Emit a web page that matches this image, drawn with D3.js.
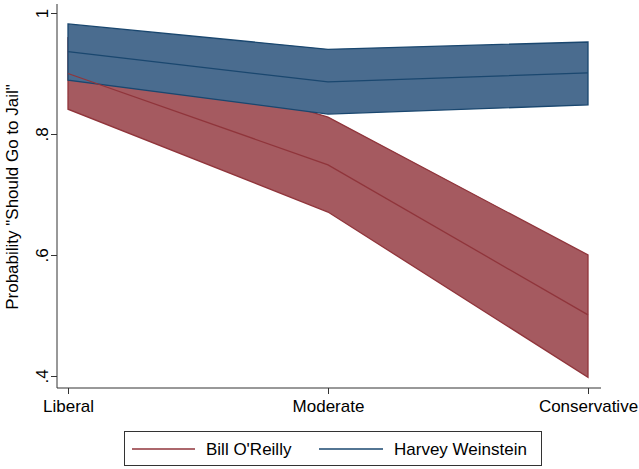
<!DOCTYPE html>
<html><head><meta charset="utf-8">
<script src="https://cdn.jsdelivr.net/npm/d3@7"></script>
<style>body{margin:0;background:#fff}svg{display:block;font-family:"Liberation Sans",Arial,sans-serif}</style>
</head><body><svg id="c" width="639" height="469"></svg>
<script>
const categories = ["Liberal","Moderate","Conservative"];
const oreillyMean = [0.900, 0.749, 0.501];
const oreillyLo   = [0.841, 0.671, 0.398];
const oreillyHi   = [0.959, 0.828, 0.600];
const weinMean = [0.936, 0.886, 0.901];
const weinLo   = [0.889, 0.833, 0.848];
const weinHi   = [0.982, 0.940, 0.952];
const yTicks = [0.4, 0.6, 0.8, 1];
const yTickLabels = [".4", ".6", ".8", "1"];
const seriesNames = ["Bill O'Reilly", "Harvey Weinstein"];

const svg = d3.select("#c");
const x = d3.scalePoint().domain(categories).range([68, 588]);
const y = d3.scaleLinear().domain([0.4, 1]).range([376, 13]);

const colors = {red:{line:"#90353b", fill:"#a55a60"}, blue:{line:"#1a476f", fill:"#4a6c8f"}};

function band(lo, hi){
  return d3.area().x((d,i)=>x(categories[i])).y0((d,i)=>y(lo[i])).y1((d,i)=>y(hi[i]))(categories);
}
function line(m){
  return d3.line().x((d,i)=>x(categories[i])).y((d,i)=>y(m[i]))(categories);
}
svg.append("path").attr("d", band(oreillyLo, oreillyHi)).attr("fill", colors.red.fill).attr("stroke", colors.red.line).attr("stroke-width",1.3);
svg.append("path").attr("d", band(weinLo, weinHi)).attr("fill", colors.blue.fill).attr("stroke", colors.blue.line).attr("stroke-width",1.3);
svg.append("path").attr("d", line(oreillyMean)).attr("fill","none").attr("stroke", colors.red.line).attr("stroke-width",1.3);
svg.append("path").attr("d", line(weinMean)).attr("fill","none").attr("stroke", colors.blue.line).attr("stroke-width",1.3);

// axes
const yAxis = d3.axisLeft(y).tickValues(yTicks).tickFormat((d,i)=>yTickLabels[i]).tickSize(6).tickSizeOuter(0);
const gy = svg.append("g").attr("transform","translate(57,0)").call(yAxis);
gy.select(".domain").attr("d","M0,4V388").attr("stroke","#333");
gy.selectAll(".tick line").attr("stroke","#333");
gy.selectAll(".tick text").attr("font-size",17).attr("fill","#000")
  .attr("transform","rotate(-90)").attr("x",0).attr("y",-9).attr("dy","0").attr("text-anchor","middle")
  .attr("dominant-baseline","auto");

const xAxis = d3.axisBottom(x).tickSize(6).tickSizeOuter(0);
const gx = svg.append("g").attr("transform","translate(0,388)").call(xAxis);
gx.select(".domain").attr("d","M57,0H601").attr("stroke","#333");
gx.selectAll(".tick line").attr("stroke","#333");
gx.selectAll(".tick text").attr("font-size",17).attr("fill","#000").attr("y",12).attr("dy","0.71em");
gx.attr("font-family",null); gy.attr("font-family",null);

svg.append("text").attr("transform","translate(18,197) rotate(-90)").attr("text-anchor","middle")
  .attr("font-size",17).text('Probability "Should Go to Jail"');

// legend
const lg = svg.append("g");
lg.append("rect").attr("x",124.5).attr("y",431.5).attr("width",417).attr("height",34).attr("fill","#fff").attr("stroke","#333");
const items = [{name:seriesNames[0], c:colors.red.line, x1:132, x2:195, tx:206},{name:seriesNames[1], c:colors.blue.line, x1:319, x2:383, tx:394}];
items.forEach(it=>{
  lg.append("line").attr("x1",it.x1).attr("x2",it.x2).attr("y1",449).attr("y2",449).attr("stroke",it.c).attr("stroke-width",1.5);
  lg.append("text").attr("x",it.tx).attr("y",455).attr("font-size",17).text(it.name);
});
</script></body></html>
